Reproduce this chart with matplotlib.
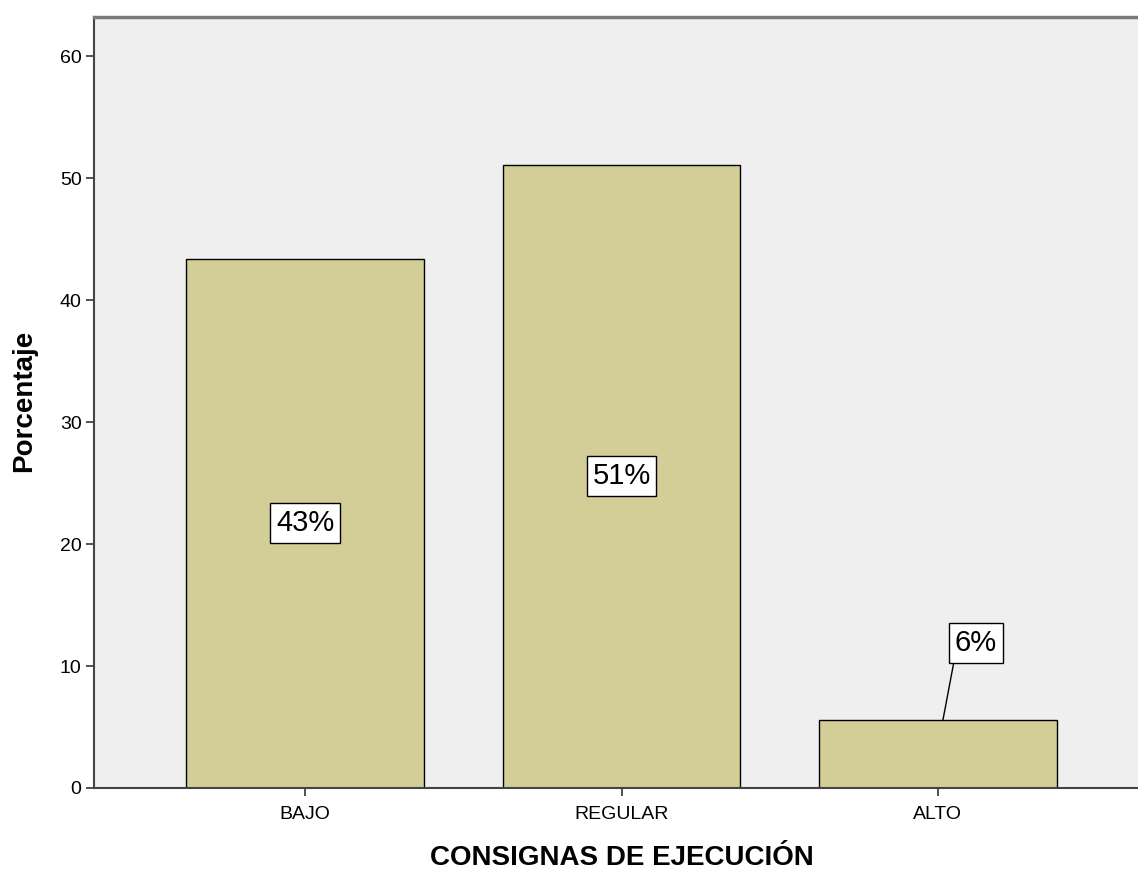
import matplotlib.pyplot as plt

plt.rcParams['font.family'] = ['Liberation Sans', 'DejaVu Sans']

# datos
categorias = ['BAJO', 'REGULAR', 'ALTO']
porcentajes = [43.4, 51.1, 5.6]
etiquetas = ['43%', '51%', '6%']

fig = plt.figure(figsize=(11.38, 8.73), dpi=100)
ax = fig.add_axes([94 / 1138, 85 / 873, 1055 / 1138, 771 / 873])
ax.set_facecolor('#EFEFEF')

x = range(len(categorias))
ax.bar(x, porcentajes, width=0.75, color='#D3CD98', edgecolor='black',
       linewidth=1.0, zorder=2)

# etiquetas de porcentaje
caja = dict(boxstyle='square,pad=0.2', facecolor='white', edgecolor='black', linewidth=1.0)
for i, (v, t) in enumerate(zip(porcentajes, etiquetas)):
    if v > 10:
        ax.text(i, v / 2, t, ha='center', va='center', fontsize=21, bbox=caja, zorder=3)
    else:
        ax.annotate(t, xy=(i + 0.016, v), xytext=(i + 0.12, 11.9),
                    ha='center', va='center', fontsize=21, bbox=caja, zorder=3,
                    arrowprops=dict(arrowstyle='-', color='black', linewidth=1.0,
                                    shrinkA=0, shrinkB=0, relpos=(0, 0)))

ax.set_xlim(-0.667, 2.667)
ax.set_ylim(0, 63.2)
ax.set_yticks([0, 10, 20, 30, 40, 50, 60])
ax.set_xticks(list(x))
ax.set_xticklabels(categorias)
ax.tick_params(axis='both', labelsize=14, length=6, width=1.2, color='#333333', pad=3)
ax.tick_params(axis='x', pad=7)

for s in ['left', 'bottom', 'top']:
    ax.spines[s].set_color('#444444')
    ax.spines[s].set_linewidth(1.5)
ax.spines['top'].set_color('#7a7a7a')
ax.spines['top'].set_linewidth(2.5)
ax.spines['right'].set_visible(False)

ax.set_xlabel('CONSIGNAS DE EJECUCIÓN', fontsize=20, fontweight='bold')
ax.set_ylabel('Porcentaje', fontsize=20, fontweight='bold')
ax.xaxis.set_label_coords((622 - 94) / 1055, -(845 - 788) / 771)
ax.yaxis.set_label_coords((37 - 94) / 1055, (788 - 401) / 771)

plt.savefig('out.png', dpi=100)
